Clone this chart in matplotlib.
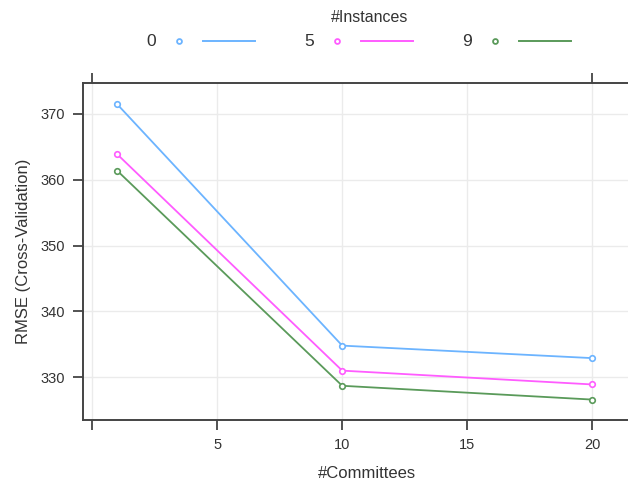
import matplotlib.pyplot as plt
from matplotlib.lines import Line2D

plt.rcParams['font.family'] = ['Liberation Sans', 'DejaVu Sans']

committees = [1, 10, 20]
instances = ['0', '5', '9']
rmse_0 = [371.5, 334.8, 332.9]
rmse_5 = [363.9, 331.0, 328.9]
rmse_9 = [361.4, 328.7, 326.6]
colors = ['#6cb4ff', '#ff5cff', '#5a9a5a']

fig = plt.figure(figsize=(6.28, 4.86), dpi=100)
ax = fig.add_axes([83 / 628, 1 - 420 / 486, (650 - 83) / 628, (420 - 83) / 486])

for vals, c in zip([rmse_0, rmse_5, rmse_9], colors):
    ax.plot(committees, vals, color=c, lw=1.3, marker='o', ms=4,
            mfc='white', mec=c, mew=1.2, zorder=3)

ax.set_xlim(-0.36, 22.3)
ax.set_ylim(323.5, 374.7)
ax.set_xticks([0, 5, 10, 15, 20])
ax.set_xticklabels(['', '5', '10', '15', '20'])
ax.set_yticks([330, 340, 350, 360, 370])
ax.grid(True, color='#ebebeb', lw=1)
ax.set_axisbelow(True)

for s in ax.spines.values():
    s.set_color('#444444')
    s.set_linewidth(1.4)

ax.tick_params(direction='out', length=7, width=1.3, color='#444444',
               labelsize=10.5, labelcolor='#333333', pad=6)

# top ticks only at 0 and 20
top = ax.secondary_xaxis('top')
top.set_xticks([0, 20])
top.set_xticklabels(['', ''])
top.tick_params(direction='out', length=7, width=1.3, color='#444444')
top.spines['top'].set_visible(False)

ax.set_xlabel('#Committees', fontsize=12, color='#333333', labelpad=10)
ax.set_ylabel('RMSE (Cross-Validation)', fontsize=12, color='#333333', labelpad=7)

# legend on top
fig.text(370 / 628, 1 - 18 / 486, '#Instances', ha='center', va='center',
         fontsize=11.5, color='#333333')
starts = [151, 309, 467]
for name, c, x0 in zip(instances, colors, starts):
    yy = 1 - 41 / 486
    fig.text(x0 / 628, yy, name, ha='center', va='center', fontsize=12.5, color='#333333')
    fig.add_artist(Line2D([(x0 + 28) / 628], [yy], marker='o', ms=3.5, mfc='white',
                          mec=c, mew=1.3, transform=fig.transFigure))
    fig.add_artist(Line2D([(x0 + 52) / 628, (x0 + 104) / 628], [yy, yy], color=c,
                          lw=1.4, transform=fig.transFigure))

fig.savefig('out.png', dpi=100)
